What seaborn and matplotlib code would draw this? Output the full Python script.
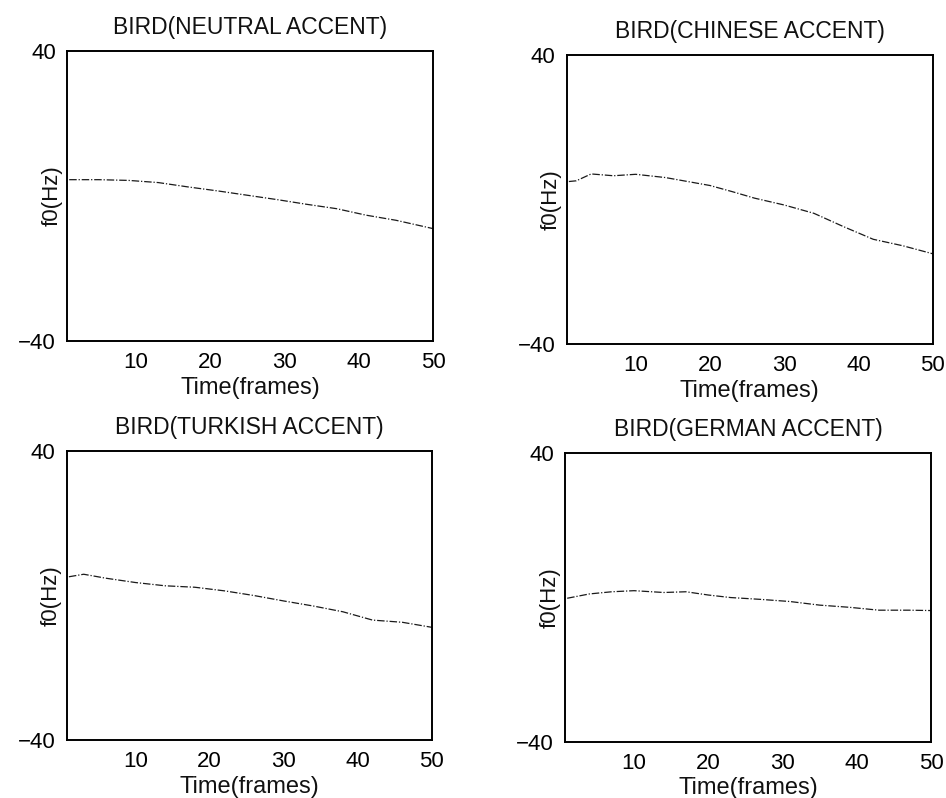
import matplotlib
matplotlib.use("Agg")
import matplotlib.pyplot as plt
import seaborn as sns
import pandas as pd

sns.set_theme(style="white")
plt.rcParams['font.family'] = ['Liberation Sans', 'DejaVu Sans']

# ---- data ----
titles = ["BIRD(NEUTRAL ACCENT)", "BIRD(CHINESE ACCENT)",
          "BIRD(TURKISH ACCENT)", "BIRD(GERMAN ACCENT)"]

frames_neutral = [1, 5, 9, 13, 17, 21, 25, 29, 33, 37, 41, 45, 50]
f0_neutral = [4.5, 4.5, 4.3, 3.7, 2.5, 1.4, 0.2, -1.0, -2.3, -3.5, -5.3, -6.7, -9.0]

frames_chinese = [1, 2, 4, 7, 10, 14, 17, 20, 23, 26, 30, 34, 38, 42, 46, 50]
f0_chinese = [5.0, 5.2, 7.1, 6.6, 7.0, 6.1, 5.0, 3.9, 2.2, 0.4, -1.5, -3.8, -7.5, -11.0, -12.8, -15.0]

frames_turkish = [1, 3, 6, 10, 14, 18, 22, 26, 30, 34, 38, 42, 46, 50]
f0_turkish = [5.2, 5.9, 4.8, 3.6, 2.7, 2.3, 1.3, 0.0, -1.5, -2.9, -4.5, -6.8, -7.4, -8.8]

frames_german = [1, 4, 7, 10, 14, 17, 20, 23, 27, 31, 35, 39, 43, 47, 50]
f0_german = [-0.3, 0.9, 1.5, 1.8, 1.3, 1.5, 0.6, -0.1, -0.6, -1.2, -2.2, -2.8, -3.6, -3.6, -3.7]

x_ticks = [10, 20, 30, 40, 50]
y_ticks = [-40, 40]

series = [(frames_neutral, f0_neutral), (frames_chinese, f0_chinese),
          (frames_turkish, f0_turkish), (frames_german, f0_german)]

# axes rectangles in figure fractions [left, bottom, width, height]
rects = [[0.0708, 0.5727, 0.387, 0.3634],
         [0.5990, 0.5689, 0.3869, 0.3620],
         [0.0705, 0.0727, 0.3860, 0.3620],
         [0.5972, 0.0706, 0.3870, 0.3621]]

fig = plt.figure(figsize=(9.46, 7.98), dpi=100)
fig.patch.set_facecolor("white")

for (fr, vals), title, rect in zip(series, titles, rects):
    ax = fig.add_axes(rect)
    df = pd.DataFrame({"frame": fr, "f0": vals})
    sns.lineplot(data=df, x="frame", y="f0", ax=ax, color="#1a1a1a",
                 linewidth=0.9, linestyle=(0, (6, 1.5, 1, 1.5)))
    ax.set_xlim(0.7, 50)
    ax.set_ylim(-40, 40)
    ax.set_xticks(x_ticks)
    ax.set_yticks(y_ticks)
    ax.set_yticklabels(["\u221240", "40"])
    ax.tick_params(axis="both", length=0, labelsize=16, colors="black")
    ax.tick_params(axis="x", pad=8)
    ax.tick_params(axis="y", pad=8)
    for s in ax.spines.values():
        s.set_visible(True)
        s.set_color("black")
        s.set_linewidth(1.4)
    ax.set_title(title, fontsize=16.5, pad=12, color="#111111")
    ax.set_xlabel("Time(frames)", fontsize=17, labelpad=2.5, color="#111111")
    ax.set_ylabel("f0(Hz)", fontsize=16, color="#111111")
    ax.yaxis.set_label_coords(-0.013, 0.5)
    ax.grid(False)

fig.savefig("out.png", dpi=100, facecolor="white")
